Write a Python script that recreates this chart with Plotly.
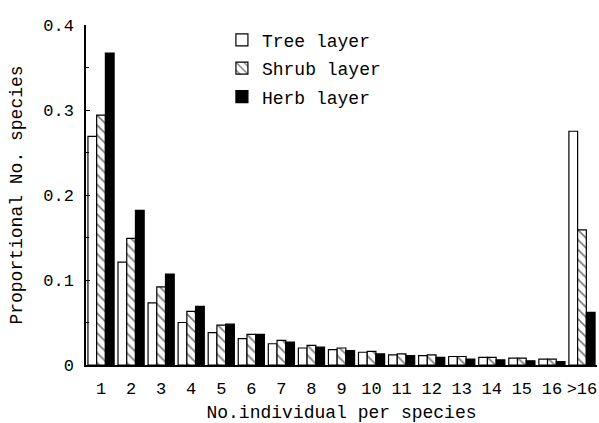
import plotly.graph_objects as go

categories = ["1", "2", "3", "4", "5", "6", "7", "8", "9", "10", "11", "12", "13", "14", "15", "16", ">16"]
tree_layer = [0.269, 0.121, 0.073, 0.050, 0.038, 0.031, 0.025, 0.020, 0.018, 0.015, 0.012, 0.011, 0.010, 0.009, 0.008, 0.007, 0.275]
shrub_layer = [0.294, 0.149, 0.092, 0.063, 0.047, 0.036, 0.029, 0.023, 0.020, 0.016, 0.013, 0.012, 0.010, 0.009, 0.008, 0.007, 0.159]
herb_layer = [0.367, 0.182, 0.107, 0.069, 0.048, 0.036, 0.027, 0.021, 0.017, 0.013, 0.011, 0.009, 0.007, 0.006, 0.005, 0.004, 0.062]
y_tickvals = [0, 0.1, 0.2, 0.3, 0.4]
y_ticktext = ["0", "0.1", "0.2", "0.3", "0.4"]

FONT = "Liberation Mono"

fig = go.Figure()
fig.add_trace(go.Bar(
    x=categories, y=tree_layer, name="Tree layer", legendgroup="a",
    marker=dict(color="white", line=dict(color="black", width=1.2)),
))
fig.add_trace(go.Bar(
    x=categories, y=shrub_layer, name="Shrub layer", legendgroup="b",
    marker=dict(color="white", line=dict(color="black", width=1.2),
                pattern=dict(shape="\\", fgcolor="black", bgcolor="white", size=7, solidity=0.25)),
))
fig.add_trace(go.Bar(
    x=categories, y=herb_layer, name="Herb layer", legendgroup="c",
    marker=dict(color="black", line=dict(color="black", width=1.2)),
))

fig.update_layout(
    width=599, height=423,
    margin=dict(l=86, r=2, t=25, b=58),
    paper_bgcolor="white", plot_bgcolor="white",
    barmode="group", bargap=0.13, bargroupgap=0,
    font=dict(family=FONT, size=17, color="black"),
    legend=dict(x=0.266, y=1.01, xanchor="left", yanchor="top",
                font=dict(family=FONT, size=18, color="black"),
                tracegroupgap=2, bgcolor="rgba(0,0,0,0)"),
    xaxis=dict(
        showline=True, linecolor="black", linewidth=1.5,
        ticks="", ticklabelstandoff=7, automargin=False,
        tickfont=dict(family=FONT, size=17, color="black"),
        title=dict(text="No.individual per species", font=dict(family=FONT, size=18, color="black"), standoff=22),
        showgrid=False, zeroline=False,
    ),
    yaxis=dict(
        range=[0, 0.4], showline=True, linecolor="black", linewidth=1.5,
        ticks="inside", ticklen=4, tickwidth=1.2, tickcolor="black",
        tickvals=y_tickvals, ticktext=y_ticktext, ticklabelstandoff=7, automargin=False,
        minor=dict(ticks="inside", ticklen=3, tickwidth=1.2, tickcolor="black", dtick=0.05, showgrid=False),
        tickfont=dict(family=FONT, size=17, color="black"),
        title=dict(text="Proportional No. species", font=dict(family=FONT, size=18, color="black"), standoff=16),
        showgrid=False, zeroline=False,
    ),
)

fig.write_html(
    "out.html",
    config={"displayModeBar": False},
    post_script="document.body.style.margin='0';document.body.style.overflow='hidden';",
)
